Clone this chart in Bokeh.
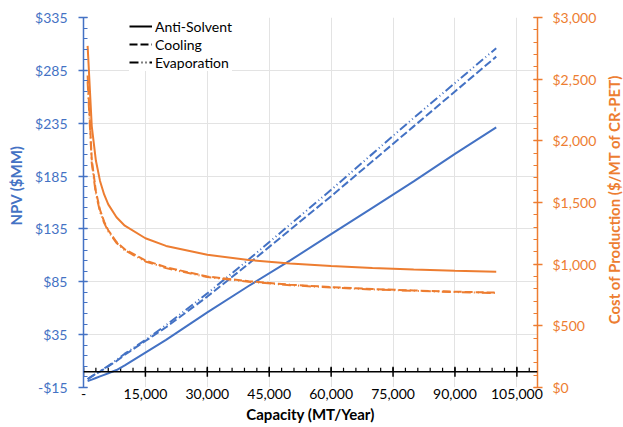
import math
from bokeh.plotting import figure
from bokeh.models import (Range1d, LinearAxis, FixedTicker, CustomJSTickFormatter,
                          Legend, LegendItem, Grid, Span, Label)
from bokeh.embed import file_html
from bokeh.resources import INLINE

# ---------------- data ----------------
capacity = [1000, 2000, 3000, 4000, 5000, 6000, 8000, 10000, 15000, 20000,
            30000, 40000, 50000, 60000, 70000, 80000, 90000, 100000]

npv_anti_solvent = [-9, -7.5, -6, -4.5, -3, -1.5, 1.5, 6, 18, 30,
                    56, 81, 105, 130, 155, 180, 206, 231]
npv_cooling = [-7, -4.5, -2, 0, 2.5, 5, 10, 16, 29, 42,
               71, 102, 134, 166, 199, 232, 265, 298]
npv_evaporation = [-7, -4.5, -2, 0.5, 3, 5.5, 11, 17, 30, 44,
                   74, 106, 139, 172, 206, 240, 273, 306]

cost_anti_solvent = [2770, 2120, 1840, 1675, 1565, 1485, 1380, 1312, 1210, 1148,
                     1076, 1034, 1005, 985, 969, 957, 946, 938]
cost_cooling = [2530, 1850, 1590, 1440, 1345, 1275, 1180, 1120, 1030, 975,
                900, 862, 834, 814, 798, 787, 777, 769]
cost_evaporation = [2480, 1820, 1570, 1425, 1335, 1265, 1172, 1112, 1022, 968,
                    895, 858, 830, 810, 795, 784, 774, 766]

series_names = ["Anti-Solvent", "Cooling", "Evaporation"]

x_major = [0, 15000, 30000, 45000, 60000, 75000, 90000, 105000]
x_minor = list(range(0, 110001, 3000))
npv_ticks = [-15, 35, 85, 135, 185, 235, 285, 335]
npv_minor = list(range(-15, 336, 10))
cost_ticks = [0, 500, 1000, 1500, 2000, 2500, 3000]
cost_minor = list(range(0, 3001, 100))

x_title = "Capacity (MT/Year)"
npv_title = "NPV ($MM)"
cost_title = "Cost of Production ($/MT of CR-PET)"

BLUE = "#4472C4"
ORANGE = "#ED7D31"
FONT = "Lato"
dashes = ["solid", "8 3", "9 3 1 3 1 3"]

X_START, X_END = 0, 110000
Y_START, Y_END = -15, 335
FRAME_H = 370

# ---------------- figure ----------------
p = figure(width=623, height=427, output_backend="svg", toolbar_location=None,
           x_range=Range1d(X_START, X_END), y_range=Range1d(Y_START, Y_END),
           min_border_left=83, min_border_right=86, min_border_top=17,
           min_border_bottom=40, x_axis_type=None, y_axis_type=None)
p.outline_line_color = None
p.background_fill_color = "white"
p.extra_y_ranges = {"cost": Range1d(0, 3000)}

x_ticker = FixedTicker(ticks=x_major, minor_ticks=x_minor)
y_ticker = FixedTicker(ticks=npv_ticks, minor_ticks=npv_minor)
c_ticker = FixedTicker(ticks=cost_ticks, minor_ticks=cost_minor)

# grids
p.add_layout(Grid(dimension=0, ticker=x_ticker, grid_line_color="#e3e3e3",
                  grid_line_width=1), "center")
p.add_layout(Grid(dimension=1, ticker=y_ticker, grid_line_color="#e3e3e3",
                  grid_line_width=1), "center")

# bottom axis: labels only
xlab = LinearAxis(ticker=x_ticker, axis_label=x_title)
xlab.formatter = CustomJSTickFormatter(
    code="return tick == 0 ? '-' : tick.toLocaleString('en-US');")
xlab.axis_line_color = None
xlab.major_tick_line_color = None
xlab.minor_tick_line_color = None
xlab.major_tick_out = 0
xlab.minor_tick_out = 0
xlab.major_label_standoff = 1
xlab.major_label_text_font = FONT
xlab.major_label_text_font_size = "14px"
xlab.major_label_text_color = "#000000"
xlab.axis_label_text_font = FONT
xlab.axis_label_text_font_size = "15px"
xlab.axis_label_text_font_style = "bold"
xlab.axis_label_text_color = "#000000"
xlab.axis_label_standoff = 3
p.add_layout(xlab, "below")

# horizontal axis line crossing at NPV = 0, with its tick marks
p.add_layout(Span(location=0, dimension="width", line_color="#000000",
                  line_width=1.5))
u = (Y_END - Y_START) / FRAME_H  # data units per pixel
p.segment(x0=x_major, x1=x_major, y0=[-5 * u] * len(x_major),
          y1=[5 * u] * len(x_major), line_color="#000000", line_width=1.5)
p.segment(x0=x_minor, x1=x_minor, y0=[0] * len(x_minor),
          y1=[4 * u] * len(x_minor), line_color="#000000", line_width=1.2)

# left axis
yl = LinearAxis(ticker=y_ticker)
yl.formatter = CustomJSTickFormatter(
    code="return (tick < 0 ? '-$' : '$') + Math.abs(tick).toFixed(0);")
yl.axis_line_color = BLUE
yl.axis_line_width = 1.5
yl.major_tick_line_color = BLUE
yl.major_tick_line_width = 1.5
yl.major_tick_in = 4
yl.major_tick_out = 5
yl.minor_tick_line_color = BLUE
yl.minor_tick_line_width = 1.2
yl.minor_tick_in = 4
yl.minor_tick_out = 0
yl.major_label_standoff = 11
yl.major_label_text_font = FONT
yl.major_label_text_font_size = "14px"
yl.major_label_text_color = BLUE
p.add_layout(yl, "left")

# right axis
yr = LinearAxis(ticker=c_ticker, y_range_name="cost")
yr.formatter = CustomJSTickFormatter(
    code="return '$' + tick.toLocaleString('en-US');")
yr.axis_line_color = ORANGE
yr.axis_line_width = 1.5
yr.major_tick_line_color = ORANGE
yr.major_tick_line_width = 1.5
yr.major_tick_in = 4
yr.major_tick_out = 5
yr.minor_tick_line_color = ORANGE
yr.minor_tick_line_width = 1.2
yr.minor_tick_in = 4
yr.minor_tick_out = 0
yr.major_label_standoff = 10
yr.major_label_text_font = FONT
yr.major_label_text_font_size = "14px"
yr.major_label_text_color = ORANGE
p.add_layout(yr, "right")

# axis titles reading bottom to top, each in its own side panel
p.add_layout(Label(x=1, y=202, x_units="screen", y_units="screen",
                   text=npv_title, angle=math.pi / 2, text_align="center",
                   text_baseline="middle", text_font=FONT,
                   text_font_size="15px", text_font_style="bold",
                   text_color=BLUE), "left")
p.add_layout(Label(x=14, y=188, x_units="screen", y_units="screen",
                   text=cost_title, angle=math.pi / 2, text_align="center",
                   text_baseline="middle", text_font=FONT,
                   text_font_size="15px", text_font_style="bold",
                   text_color=ORANGE), "right")

# ---------------- lines ----------------
npv_series = [npv_anti_solvent, npv_cooling, npv_evaporation]
cost_series = [cost_anti_solvent, cost_cooling, cost_evaporation]

for ys, d in zip(npv_series, dashes):
    p.line(capacity, ys, line_color=BLUE, line_width=2, line_dash=d)
for ys, d in zip(cost_series, dashes):
    p.line(capacity, ys, line_color=ORANGE, line_width=2, line_dash=d,
           y_range_name="cost")

# legend with black samples
items = []
for name, d in zip(series_names, dashes):
    r = p.line([float("nan")], [float("nan")], line_color="black",
               line_width=2, line_dash=d)
    items.append(LegendItem(label=name, renderers=[r]))

legend = Legend(items=items, location=(46, 316))
legend.margin = 0
legend.padding = 0
legend.spacing = 0
legend.label_height = 18
legend.glyph_height = 14
legend.glyph_width = 23
legend.label_standoff = 3
legend.label_text_font = FONT
legend.label_text_font_size = "14px"
legend.label_text_color = "#000000"
legend.border_line_color = None
legend.background_fill_color = "white"
legend.background_fill_alpha = 1
p.add_layout(legend, "center")

open("out.html", "w").write(file_html(p, INLINE))
